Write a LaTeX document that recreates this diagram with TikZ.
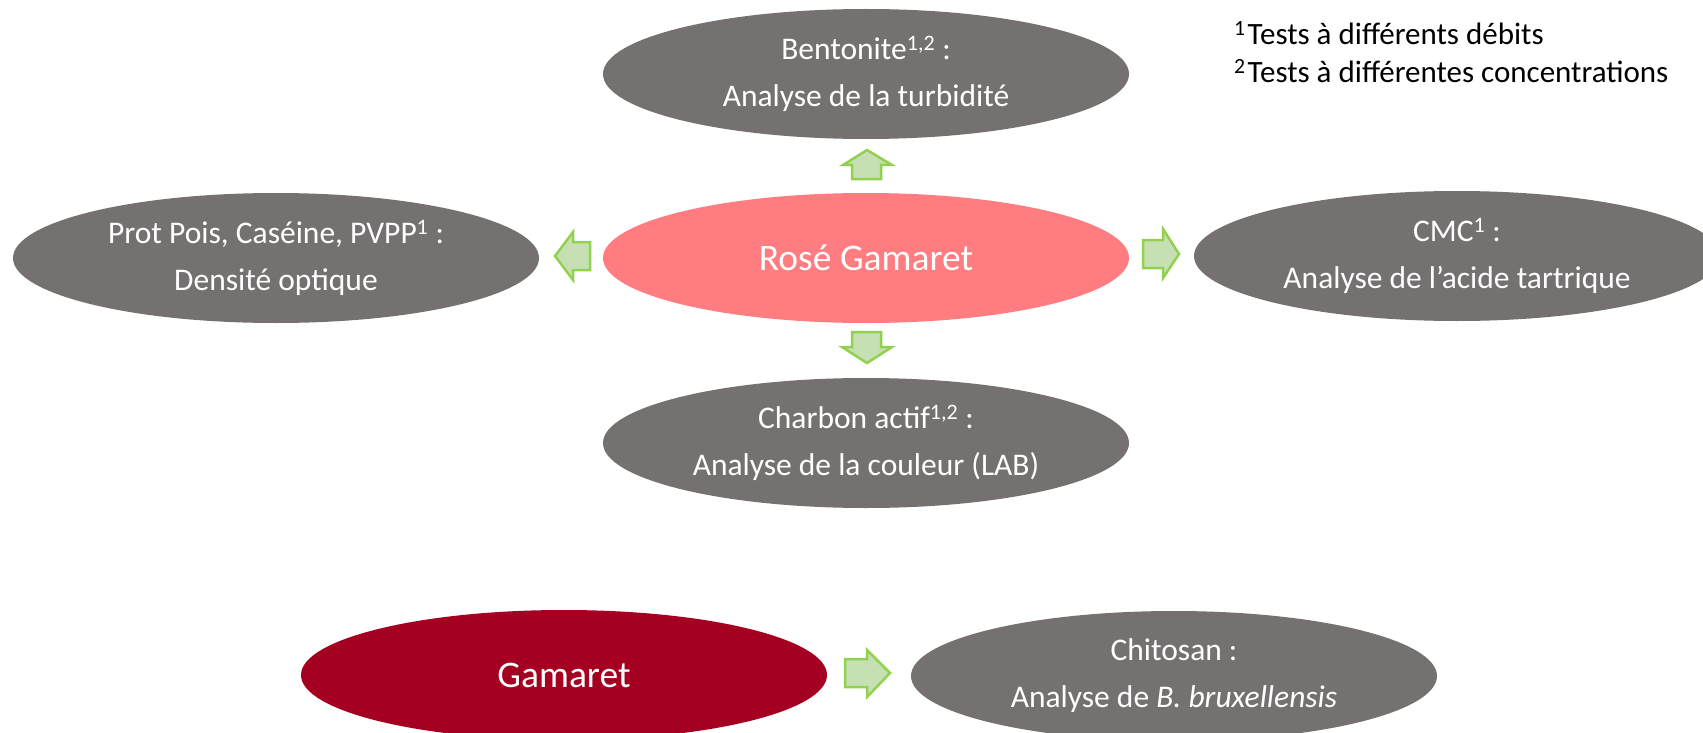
\documentclass[tikz,border=0pt]{standalone}
\usepackage{fontspec}
\setmainfont{Carlito}
\usetikzlibrary{shapes.geometric}
\definecolor{greyell}{HTML}{767171}
\definecolor{roseell}{HTML}{FF7C80}
\definecolor{redell}{HTML}{A50021}
\definecolor{arrfill}{HTML}{C6E0B4}
\definecolor{arrline}{HTML}{92D050}
\tikzset{
  ell/.style={ellipse, fill=#1, draw=none, minimum width=526pt, minimum height=130pt,
    inner sep=0pt, text=white, align=center, font=\fontsize{31.5}{47}\selectfont},
  bigtext/.style={font=\fontsize{37.5}{45}\selectfont},
  blockarr/.style={fill=arrfill, draw=arrline, line width=2.5pt, line join=miter},
  foot/.style={anchor=west, align=left, inner sep=0pt, font=\fontsize{31}{38}\selectfont}
}
\begin{document}
\begin{tikzpicture}[x=1pt,y=-1pt]
\useasboundingbox (0,0) rectangle (1703,733);
\clip (0,0) rectangle (1703,733);
\fill[white] (0,0) rectangle (1703,733);
\node[ell=greyell] (bent) at (866,74) {Bentonite\textsuperscript{1,2} :\\Analyse de la turbidité};
\node[ell=roseell, bigtext] (rose) at (866,258) {Rosé Gamaret};
\node[ell=greyell] (prot) at (276,258) {Prot Pois, Caséine, PVPP\textsuperscript{1} :\\Densité optique};
\node[ell=greyell] (cmc) at (1457,256) {CMC\textsuperscript{1} :\\Analyse de l’acide tartrique};
\node[ell=greyell] (charb) at (866,443) {Charbon actif\textsuperscript{1,2} :\\Analyse de la couleur (LAB)};
\node[ell=redell, bigtext] (gam) at (564,675) {Gamaret};
\node[ell=greyell] (chit) at (1174,676) {Chitosan :\\Analyse de \textit{B. bruxellensis}};
\node[foot] (note) at (1234,52) {\textsuperscript{1}\kern2pt Tests à différents débits\\\textsuperscript{2}\kern2pt Tests à différentes concentrations};
% block arrows
\draw[blockarr] (867,150) -- (892,165) -- (881,165) -- (881,179) -- (852,179) -- (852,165) -- (843,165) -- cycle;
\draw[blockarr] (867,363) -- (892,347) -- (881,347) -- (881,332) -- (852,332) -- (852,347) -- (842,347) -- cycle;
\draw[blockarr] (555,256) -- (573,232) -- (573,242) -- (590,242) -- (590,270) -- (573,270) -- (573,280) -- cycle;
\draw[blockarr] (1179,254) -- (1163,229) -- (1163,240) -- (1143,240) -- (1143,268) -- (1163,268) -- (1163,278) -- cycle;
\draw[blockarr] (890,673) -- (867,650) -- (867,659) -- (845,659) -- (845,687) -- (867,687) -- (867,697) -- cycle;
\end{tikzpicture}
\end{document}
